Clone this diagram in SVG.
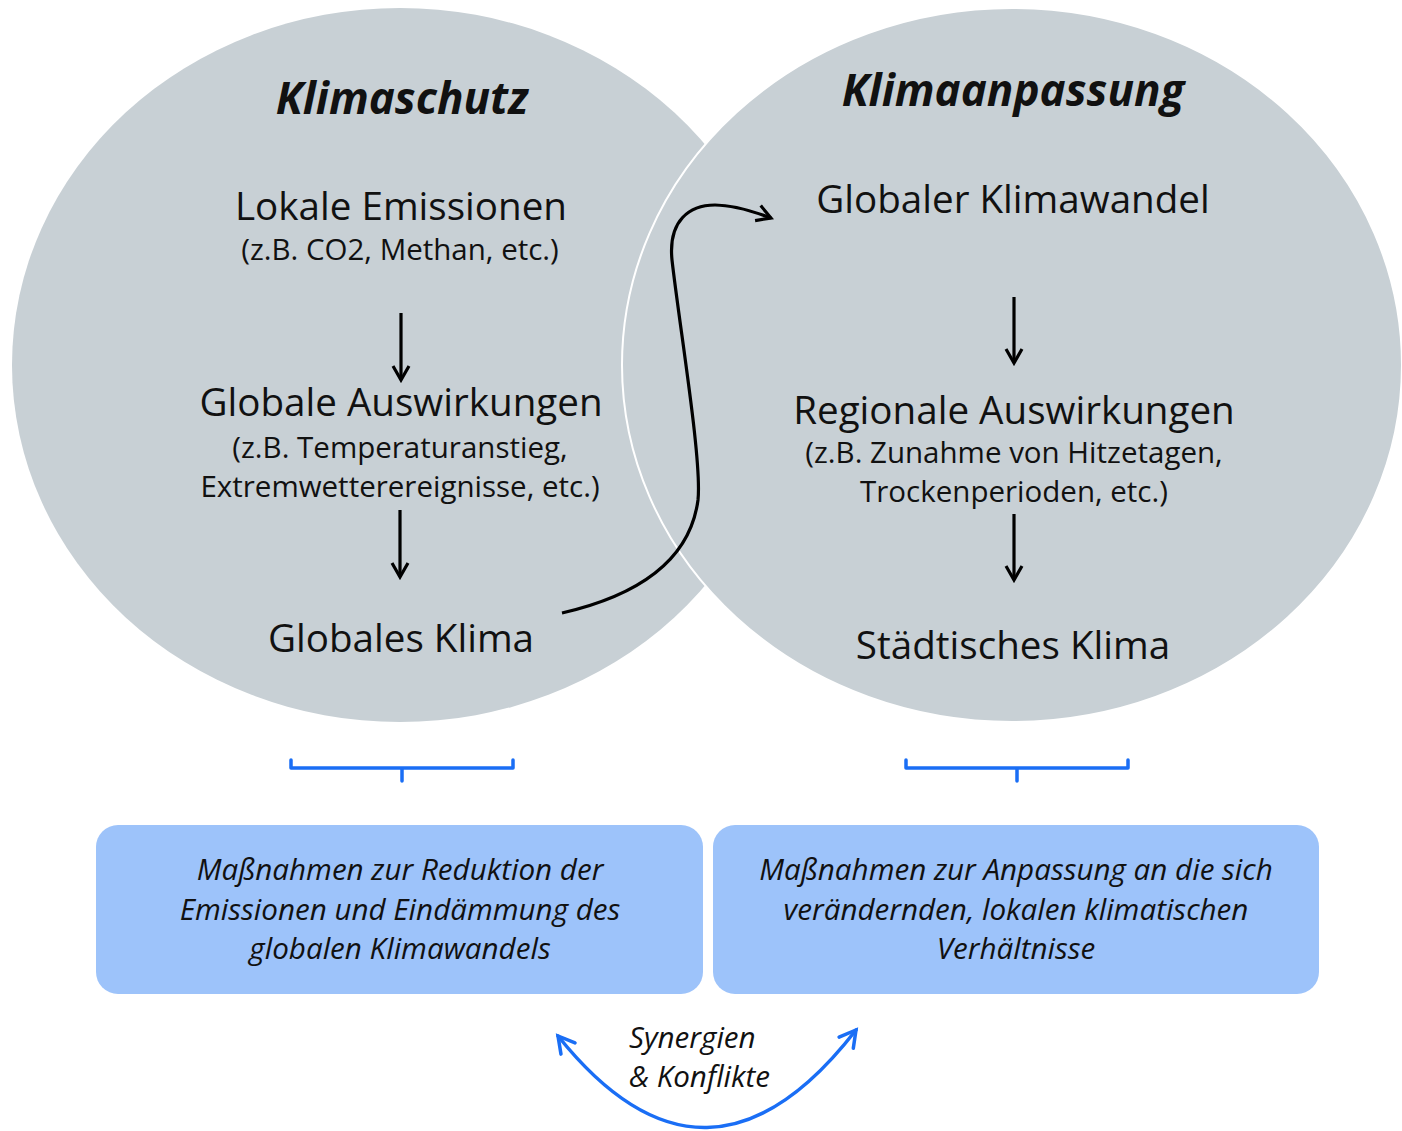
<svg xmlns="http://www.w3.org/2000/svg" width="1402" height="1131" viewBox="0 0 1402 1131">
<style>
.circ{fill:#c8d0d5}
.t{font-family:"Open Sans","Noto Sans",sans-serif;fill:#111;text-anchor:middle}
.h{font-size:44px;font-weight:bold;font-style:italic}
.m{font-size:38.6px}
.s{font-size:29.5px}
.b{font-size:29.6px;font-style:italic}
.box{fill:#9dc3fa}
.ar{fill:none;stroke:#000;stroke-width:3.2}
.bl{fill:none;stroke:#1a6ef5;stroke-width:3.5;stroke-linecap:round;stroke-linejoin:round}
</style>
<defs>
<marker id="ah" viewBox="0 0 20 20" refX="17" refY="10" markerWidth="20" markerHeight="20" markerUnits="userSpaceOnUse" orient="auto-start-reverse">
<path d="M3,2 L17,10 L3,18" fill="none" stroke="#000" stroke-width="3.2"/>
</marker>
<marker id="bh" viewBox="0 0 24 24" refX="20" refY="12" markerWidth="24" markerHeight="24" markerUnits="userSpaceOnUse" orient="auto-start-reverse">
<path d="M4,3 L20,12 L4,21" fill="none" stroke="#1a6ef5" stroke-width="3.5" stroke-linecap="round"/>
</marker>
</defs>
<g id="klimaschutz">
<ellipse class="circ" cx="400" cy="365" rx="388" ry="357"/>
</g>
<g id="klimaanpassung">
<ellipse class="circ" cx="1012" cy="365" rx="390" ry="357" stroke="#fff" stroke-width="2"/>
</g>
<g id="labels-left">
<text class="t h" x="402" y="114">Klimaschutz</text>
<text class="t m" x="401" y="220">Lokale Emissionen</text>
<text class="t s" x="400" y="260">(z.B. CO2, Methan, etc.)</text>
<text class="t m" x="401" y="416">Globale Auswirkungen</text>
<text class="t s" x="400" y="458">(z.B. Temperaturanstieg,</text>
<text class="t s" x="400" y="497">Extremwetterereignisse, etc.)</text>
<text class="t m" x="401" y="652">Globales Klima</text>
</g>
<g id="labels-right">
<text class="t h" x="1013" y="106">Klimaanpassung</text>
<text class="t m" x="1013" y="213">Globaler Klimawandel</text>
<text class="t m" x="1014" y="424">Regionale Auswirkungen</text>
<text class="t s" x="1014" y="463">(z.B. Zunahme von Hitzetagen,</text>
<text class="t s" x="1014" y="502">Trockenperioden, etc.)</text>
<text class="t m" x="1013" y="659">Städtisches Klima</text>
</g>
<g id="box-left">
<rect class="box" x="96" y="825" width="607" height="169" rx="22"/>
<text class="t b" x="400" y="880">Maßnahmen zur Reduktion der</text>
<text class="t b" x="400" y="920">Emissionen und Eindämmung des</text>
<text class="t b" x="400" y="959">globalen Klimawandels</text>
</g>
<g id="box-right">
<rect class="box" x="713" y="825" width="606" height="169" rx="22"/>
<text class="t b" x="1016" y="880">Maßnahmen zur Anpassung an die sich</text>
<text class="t b" x="1016" y="920">verändernden, lokalen klimatischen</text>
<text class="t b" x="1016" y="959">Verhältnisse</text>
</g>
<g id="synergien">
<text class="t b" x="629" y="1048" style="text-anchor:start">Synergien</text>
<text class="t b" x="629" y="1087" style="text-anchor:start">&amp; Konflikte</text>
</g>
<g id="connectors">
<line class="ar" x1="401" y1="313" x2="401" y2="380" marker-end="url(#ah)"/>
<line class="ar" x1="400" y1="510" x2="400" y2="577" marker-end="url(#ah)"/>
<line class="ar" x1="1014" y1="297" x2="1014" y2="363" marker-end="url(#ah)"/>
<line class="ar" x1="1014" y1="514" x2="1014" y2="580" marker-end="url(#ah)"/>
<path class="ar" d="M562,613 C640,595 690,560 698,500 C702,460 680,330 672,260 C668,220 690,205 715,205 C735,205 755,212 771,218" marker-end="url(#ah)"/>
<path class="bl" d="M291,760 L291,768 L513,768 L513,760 M402,768 L402,781"/>
<path class="bl" d="M906,760 L906,768 L1128,768 L1128,760 M1017,768 L1017,781"/>
<path class="bl" d="M558,1036 Q707,1222 856,1030" marker-start="url(#bh)" marker-end="url(#bh)"/>
</g>
</svg>
